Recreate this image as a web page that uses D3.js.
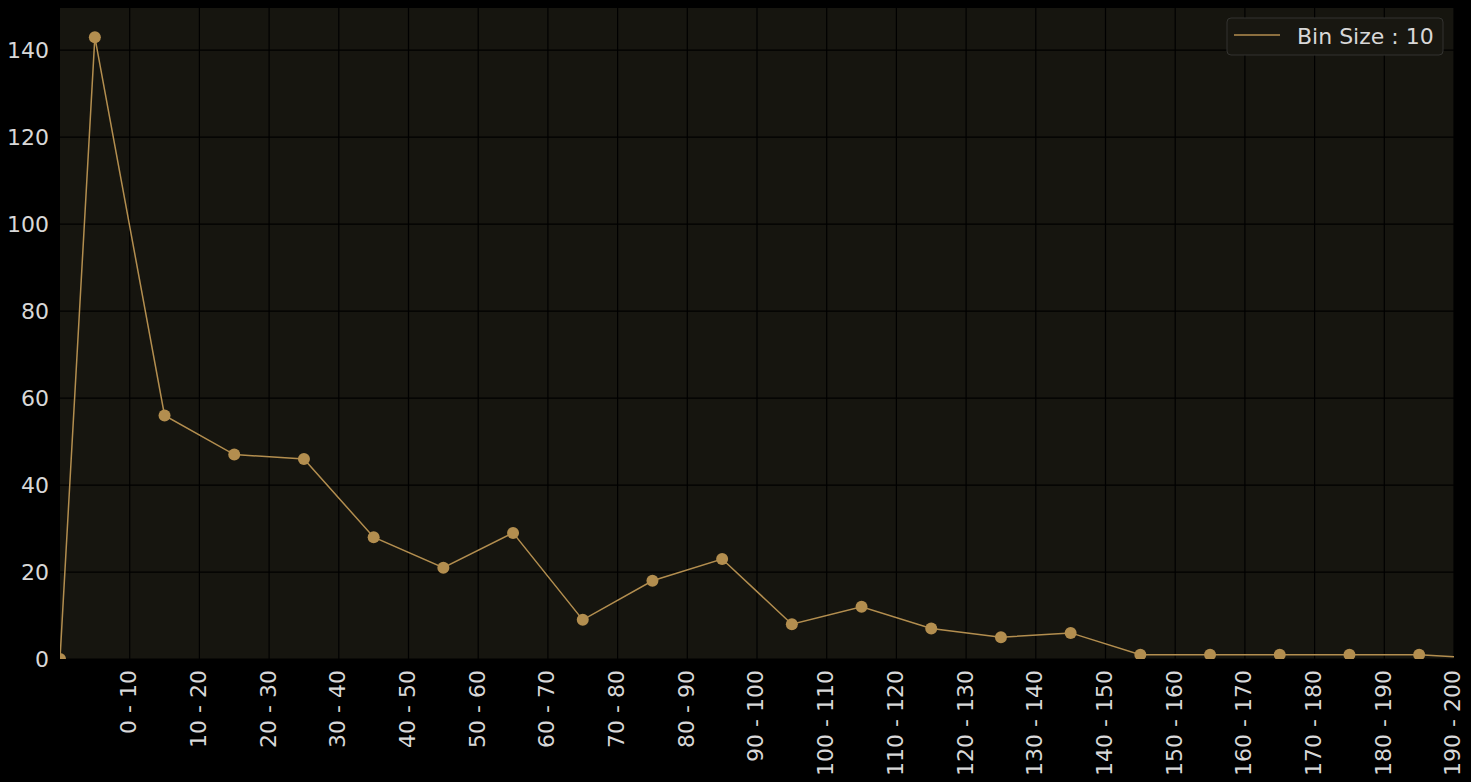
<!DOCTYPE html>
<html>
<head>
<meta charset="utf-8">
<script src="https://cdn.jsdelivr.net/npm/d3@7"></script>
<style>
  html, body { margin: 0; padding: 0; background: #000; }
  svg { display: block; }
</style>
</head>
<body>
<div id="chart"></div>
<script>
// bin centres and counts (first and last points sit at the edges, clipped)
var binCenters = [0, 5, 15, 25, 35, 45, 55, 65, 75, 85, 95, 105, 115, 125, 135, 145, 155, 165, 175, 185, 195, 205];
var binCounts = [0, 143, 56, 47, 46, 28, 21, 29, 9, 18, 23, 8, 12, 7, 5, 6, 1, 1, 1, 1, 1, 0];
var tickValues = [10, 20, 30, 40, 50, 60, 70, 80, 90, 100, 110, 120, 130, 140, 150, 160, 170, 180, 190, 200];
var tickLabels = ['0 - 10', '10 - 20', '20 - 30', '30 - 40', '40 - 50', '50 - 60', '60 - 70', '70 - 80', '80 - 90', '90 - 100',
  '100 - 110', '110 - 120', '120 - 130', '130 - 140', '140 - 150', '150 - 160', '160 - 170', '170 - 180', '180 - 190', '190 - 200'];
var yTicks = [0, 20, 40, 60, 80, 100, 120, 140];
var legendLabel = 'Bin Size : 10';

var attrs = {
  svgWidth: 1471,
  svgHeight: 782,
  marginTop: 8,
  marginBottom: 123,
  marginLeft: 60,
  marginRight: 17,
  lineColor: '#b38e4f',
  plotBg: '#16150f',
  textColor: '#d8d8d8',
  fontSize: 22
};

var calc = {};
calc.chartWidth = attrs.svgWidth - attrs.marginLeft - attrs.marginRight;
calc.chartHeight = attrs.svgHeight - attrs.marginTop - attrs.marginBottom;

var data = binCenters.map(function (x, i) { return { x: x, y: binCounts[i] }; });

var svg = d3.select('#chart').append('svg')
  .attr('width', attrs.svgWidth)
  .attr('height', attrs.svgHeight)
  .style('font-family', 'DejaVu Sans, sans-serif');

svg.append('rect').attr('width', attrs.svgWidth).attr('height', attrs.svgHeight).attr('fill', '#000');

var chart = svg.append('g')
  .attr('transform', 'translate(' + attrs.marginLeft + ',' + attrs.marginTop + ')');

var x = d3.scaleLinear().domain([0, 200]).range([0, calc.chartWidth]);
var y = d3.scaleLinear().domain([0, 149.7]).range([calc.chartHeight, 0]);

chart.append('rect')
  .attr('width', calc.chartWidth)
  .attr('height', calc.chartHeight)
  .attr('fill', attrs.plotBg);

svg.append('clipPath').attr('id', 'clip')
  .append('rect')
  .attr('width', calc.chartWidth)
  .attr('height', calc.chartHeight);

// grid
chart.append('g').selectAll('line')
  .data(tickValues)
  .enter().append('line')
  .attr('x1', function (d) { return x(d); })
  .attr('x2', function (d) { return x(d); })
  .attr('y1', 0).attr('y2', calc.chartHeight)
  .attr('stroke', '#000').attr('stroke-width', 1.2);

chart.append('g').selectAll('line')
  .data(yTicks)
  .enter().append('line')
  .attr('x1', 0).attr('x2', calc.chartWidth)
  .attr('y1', function (d) { return y(d); })
  .attr('y2', function (d) { return y(d); })
  .attr('stroke', '#000').attr('stroke-width', 1.2);

// axes
var yAxis = chart.append('g')
  .call(d3.axisLeft(y).tickValues(yTicks).tickSize(0).tickPadding(11));
yAxis.select('.domain').remove();
yAxis.selectAll('text')
  .attr('fill', attrs.textColor)
  .style('font-size', attrs.fontSize + 'px')
  .style('font-family', 'DejaVu Sans, sans-serif');

var xAxis = chart.append('g')
  .attr('transform', 'translate(0,' + calc.chartHeight + ')')
  .call(d3.axisBottom(x).tickValues(tickValues).tickSize(0)
    .tickFormat(function (d, i) { return tickLabels[i]; }));
xAxis.select('.domain').remove();
xAxis.selectAll('text')
  .attr('fill', attrs.textColor)
  .style('font-size', attrs.fontSize + 'px')
  .style('font-family', 'DejaVu Sans, sans-serif')
  .attr('transform', 'rotate(-90)')
  .attr('text-anchor', 'end')
  .attr('dy', '0.27em')
  .attr('x', -11)
  .attr('y', 0);

// line + markers
var lineGen = d3.line()
  .x(function (d) { return x(d.x); })
  .y(function (d) { return y(d.y); });

var plot = chart.append('g').attr('clip-path', 'url(#clip)');

plot.append('path')
  .datum(data)
  .attr('d', lineGen)
  .attr('fill', 'none')
  .attr('stroke', attrs.lineColor)
  .attr('stroke-width', 1.5);

plot.selectAll('circle')
  .data(data)
  .enter().append('circle')
  .attr('cx', function (d) { return x(d.x); })
  .attr('cy', function (d) { return y(d.y); })
  .attr('r', 6)
  .attr('fill', attrs.lineColor);

// legend
var legend = chart.append('g')
  .attr('transform', 'translate(' + (calc.chartWidth - 227) + ',10)');
legend.append('rect')
  .attr('width', 216).attr('height', 37).attr('rx', 4)
  .attr('fill', '#181711')
  .attr('stroke', '#333330').attr('stroke-width', 1);
legend.append('line')
  .attr('x1', 7).attr('x2', 53).attr('y1', 17).attr('y2', 17)
  .attr('stroke', attrs.lineColor).attr('stroke-width', 1.5);
legend.append('text')
  .attr('x', 70).attr('y', 18)
  .attr('dy', '0.35em')
  .attr('fill', attrs.textColor)
  .style('font-size', attrs.fontSize + 'px')
  .text(legendLabel);
</script>
</body>
</html>
